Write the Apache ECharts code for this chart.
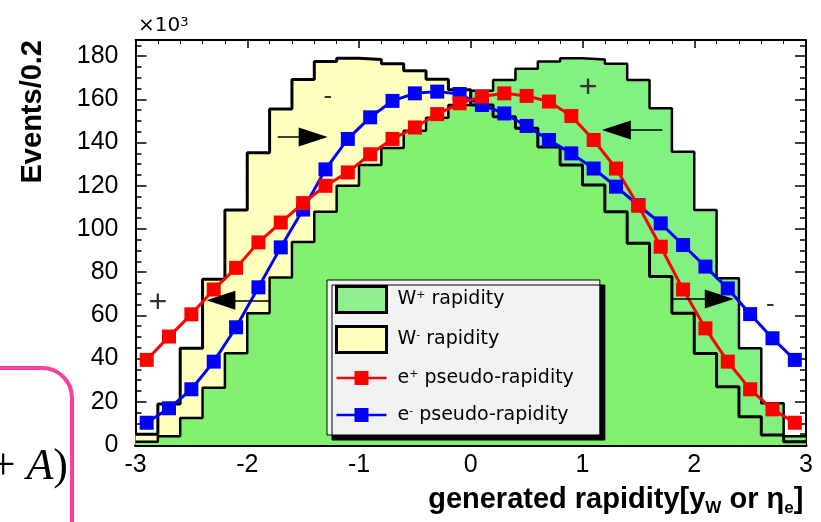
<!DOCTYPE html>
<html>
<head>
<meta charset="utf-8">
<script src="https://cdn.jsdelivr.net/npm/echarts@6/dist/echarts.min.js"></script>
<style>
  html, body { margin: 0; padding: 0; background: #fff; }
  #chart { width: 821px; height: 522px; }
</style>
</head>
<body>
<div id="chart"></div>
<script>
// histogram bins, width 0.2 in rapidity
const binEdges = [-3.0, -2.8, -2.6, -2.4, -2.2, -2.0, -1.8, -1.6, -1.4, -1.2, -1.0, -0.8, -0.6, -0.4, -0.2,
  0.0, 0.2, 0.4, 0.6, 0.8, 1.0, 1.2, 1.4, 1.6, 1.8, 2.0, 2.2, 2.4, 2.6, 2.8, 3.0];
const binCentres = [-2.9, -2.7, -2.5, -2.3, -2.1, -1.9, -1.7, -1.5, -1.3, -1.1, -0.9, -0.7, -0.5, -0.3, -0.1,
  0.1, 0.3, 0.5, 0.7, 0.9, 1.1, 1.3, 1.5, 1.7, 1.9, 2.1, 2.3, 2.5, 2.7, 2.9];

// events per bin, x10^3
const wPlus = [1.5, 4, 12.5, 26.5, 42.5, 61, 77.5, 94, 108, 120, 129.6, 137.5, 145.5, 151.5, 157.4,
  164, 169, 174.2, 177.5, 179, 178.5, 176.5, 169, 155.9, 135.8, 108.8, 77.2, 44.8, 19.3, 4];
const wMinus = [5, 19, 44.8, 76.7, 108.8, 135.3, 155.5, 169.2, 177.5, 179, 178.5, 176.5, 173.3, 169.3, 164.5,
  157.4, 152, 146.6, 138, 129.6, 120.4, 108, 93.4, 78, 61, 42.4, 27, 13.1, 4.6, 1.5];
const ePlus = [39.4, 50.2, 60.5, 72, 82, 93.8, 103, 112, 120, 126.2, 134.6, 141.7, 147, 153.2, 158.2,
  161.3, 162.8, 161.6, 159, 152.3, 141.2, 128, 110.8, 91.8, 72, 54, 38.6, 25.8, 16.5, 10.3];
const eMinus = [10.3, 17, 25.8, 38.6, 54.5, 73, 91.5, 109, 127.6, 141.7, 151.7, 159.3, 162.8, 163.6, 162.5,
  157.4, 153.5, 147.7, 141.2, 135, 128, 119.6, 111, 102.6, 92.6, 82.6, 72.5, 60.6, 49.4, 39.4];

const xTickLabels = [-3, -2, -1, 0, 1, 2, 3];
const yTickLabels = [0, 20, 40, 60, 80, 100, 120, 140, 160, 180];
const yMinorTicks = [0, 5, 10, 15, 20, 25, 30, 35, 40, 45, 50, 55, 60, 65, 70, 75, 80, 85, 90, 95,
  100, 105, 110, 115, 120, 125, 130, 135, 140, 145, 150, 155, 160, 165, 170, 175, 180, 185];

// charge labels and arrows drawn on the plot, in data units
const signText = ['-', '+', '+', '-'];
const signX = [-1.28, 1.05, -2.80, 2.68];
const signY = [161, 165, 65.7, 64.8];
const arrowFromX = [-1.727, 1.714, -1.807, 1.80];
const arrowToX = [-1.41, 1.303, -2.236, 2.224];
const arrowY = [142.6, 145.8, 67, 67.6];

const FONT = "'Liberation Sans', Arial, sans-serif";
// green is a bit see-through, so the W- outline still shows under it
const YELLOW = '#ffffbe';
const GREEN = 'rgba(80, 236, 80, 0.72)';

// histogram as a step line through the left edge of every bin
function histLine(values) {
  return binEdges.map((x, i) => [x, values[Math.min(i, values.length - 1)]]);
}
function points(values) {
  return binCentres.map((x, i) => [x, values[i]]);
}

const lineIcon = 'path://M0,0M50,26M0,11.8L18,11.8L18,6L32,6L32,11.8L50,11.8L50,14.2L32,14.2L32,20L18,20L18,14.2L0,14.2Z';

function xAxisBase(pos) {
  return {
    type: 'value', position: pos, min: -3, max: 3, interval: 1,
    axisLine: { onZero: false, lineStyle: { color: '#000', width: pos === 'bottom' ? 3 : 2 } },
    axisTick: { inside: true, length: 8, lineStyle: { color: '#000', width: 1.5 } },
    minorTick: { show: true, splitNumber: 5, length: 4, lineStyle: { color: '#000', width: 1 } },
    splitLine: { show: false },
    axisLabel: { show: false }
  };
}
function yAxisBase(pos, ticks, len, showLine) {
  return {
    type: 'value', position: pos, min: 0, max: 187.5,
    axisLine: { show: showLine, onZero: false, lineStyle: { color: '#000', width: 2 } },
    axisTick: { show: true, inside: true, length: len, customValues: ticks, lineStyle: { color: '#000', width: 1.5 } },
    splitLine: { show: false },
    axisLabel: { show: false }
  };
}

const xBottom = xAxisBase('bottom');
xBottom.axisLabel = { show: true, customValues: xTickLabels, margin: 8, fontSize: 25, fontFamily: FONT, color: '#000' };
xBottom.name = 'generated rapidity[y{sub|W} or η{sub|e}]';
xBottom.nameLocation = 'middle';
xBottom.nameGap = 36;
xBottom.nameTextStyle = {
  verticalAlign: 'top', padding: [0, 0, 0, 290],
  fontSize: 29, fontWeight: 'bold', fontFamily: FONT, color: '#000', lineHeight: 34,
  rich: { sub: { fontSize: 17, fontWeight: 'bold', fontFamily: FONT, color: '#000', verticalAlign: 'bottom', lineHeight: 17 } }
};

const yLeft = yAxisBase('left', yTickLabels, 11, true);
yLeft.axisLabel = { show: true, customValues: yTickLabels, margin: 17, fontSize: 25, fontFamily: FONT, color: '#000' };
yLeft.name = 'Events/0.2';
yLeft.nameLocation = 'end';
yLeft.nameGap = 0;
yLeft.nameRotate = 90;
yLeft.nameTextStyle = {
  align: 'right', verticalAlign: 'bottom', padding: [0, 0, 88, 0],
  fontSize: 29, fontWeight: 'bold', fontFamily: FONT, color: '#000'
};

const chart = echarts.init(document.getElementById('chart'));
const option = {
  animation: false,
  backgroundColor: '#fff',
  title: {
    text: '×10{sup|3}',
    left: 133, top: 11,
    textStyle: {
      fontFamily: 'DejaVu Sans', fontSize: 20, fontWeight: 'normal', color: '#000',
      rich: { sup: { fontFamily: 'DejaVu Sans', fontSize: 13, color: '#000', verticalAlign: 'top' } }
    }
  },
  grid: { left: 135.5, right: 15, top: 40, bottom: 77, containLabel: false, outerBoundsMode: 'none' },
  xAxis: [xBottom, xAxisBase('top')],
  yAxis: [
    yLeft,
    yAxisBase('left', yMinorTicks, 6, false),
    yAxisBase('right', yTickLabels, 11, true),
    yAxisBase('right', yMinorTicks, 6, false)
  ],
  legend: {
    orient: 'vertical', left: 327, top: 280,
    itemWidth: 50, itemHeight: 26, itemGap: 11,
    padding: [5, 26, 7, 8],
    backgroundColor: '#f2f2f2', borderColor: '#000', borderWidth: 1,
    shadowColor: '#000', shadowBlur: 0, shadowOffsetX: 5, shadowOffsetY: 5,
    selectedMode: false,
    textStyle: {
      fontFamily: 'DejaVu Sans', fontSize: 19, color: '#000', padding: [0, 0, 0, 6],
      rich: { sup: { fontFamily: 'DejaVu Sans', fontSize: 11, color: '#000', verticalAlign: 'top' } }
    },
    formatter: name => name.replace(/^([We])([+-])/, '$1{sup|$2}'),
    data: [
      { name: 'W+ rapidity', icon: 'rect', itemStyle: { color: '#90f090', borderColor: '#000', borderWidth: 3 } },
      { name: 'W- rapidity', icon: 'rect', itemStyle: { color: YELLOW, borderColor: '#000', borderWidth: 3 } },
      { name: 'e+ pseudo-rapidity', icon: lineIcon, itemStyle: { color: '#ff0000', borderWidth: 0 } },
      { name: 'e- pseudo-rapidity', icon: lineIcon, itemStyle: { color: '#0000ff', borderWidth: 0 } }
    ]
  },
  series: [
    {
      name: 'W- rapidity', type: 'line', step: 'end', symbol: 'none',
      data: histLine(wMinus),
      lineStyle: { color: '#000', width: 3 },
      itemStyle: { color: YELLOW },
      areaStyle: { color: YELLOW, opacity: 1 }
    },
    {
      name: 'W+ rapidity', type: 'line', step: 'end', symbol: 'none',
      data: histLine(wPlus),
      lineStyle: { color: '#000', width: 2.5 },
      itemStyle: { color: GREEN },
      areaStyle: { color: GREEN, opacity: 1 }
    },
    {
      name: 'e- pseudo-rapidity', type: 'line', symbol: 'rect', symbolSize: 14,
      data: points(eMinus),
      lineStyle: { color: '#0000ff', width: 3 },
      itemStyle: { color: '#0000ff' },
      markPoint: {
        silent: true, symbol: 'rect', symbolSize: 1,
        itemStyle: { color: 'rgba(0,0,0,0)' },
        label: { show: true, position: 'inside', color: '#333', fontFamily: FONT, fontSize: 30 },
        data: signText.map((t, i) => ({
          coord: [signX[i], signY[i]],
          label: { formatter: t, fontSize: t === '+' ? 32 : 26 }
        }))
      }
    },
    {
      name: 'e+ pseudo-rapidity', type: 'line', symbol: 'rect', symbolSize: 14,
      data: points(ePlus),
      lineStyle: { color: '#ff0000', width: 3 },
      itemStyle: { color: '#ff0000' },
      markLine: {
        silent: true, animation: false,
        label: { show: false },
        lineStyle: { color: '#000', width: 1.5, type: 'solid' },
        data: arrowY.map((y, i) => [
          { coord: [arrowFromX[i], y], symbol: 'none' },
          { coord: [arrowToX[i], y], symbol: 'triangle', symbolSize: [19, 29] }
        ])
      }
    }
  ],
  graphic: [
    {
      type: 'rect', silent: true,
      shape: { x: -40, y: 368, width: 112, height: 220, r: 30 },
      style: { fill: 'none', stroke: '#f8409c', lineWidth: 4 }
    },
    {
      type: 'text', silent: true, x: 68, y: 467,
      style: {
        text: '{n|+ }{i|A}{n|)}', align: 'right', verticalAlign: 'middle',
        rich: {
          n: { fontFamily: "'Liberation Serif', serif", fontSize: 44, fill: '#000' },
          i: { fontFamily: "'Liberation Serif', serif", fontSize: 44, fontStyle: 'italic', fill: '#000' }
        }
      }
    }
  ]
};
chart.setOption(option);
</script>
</body>
</html>
